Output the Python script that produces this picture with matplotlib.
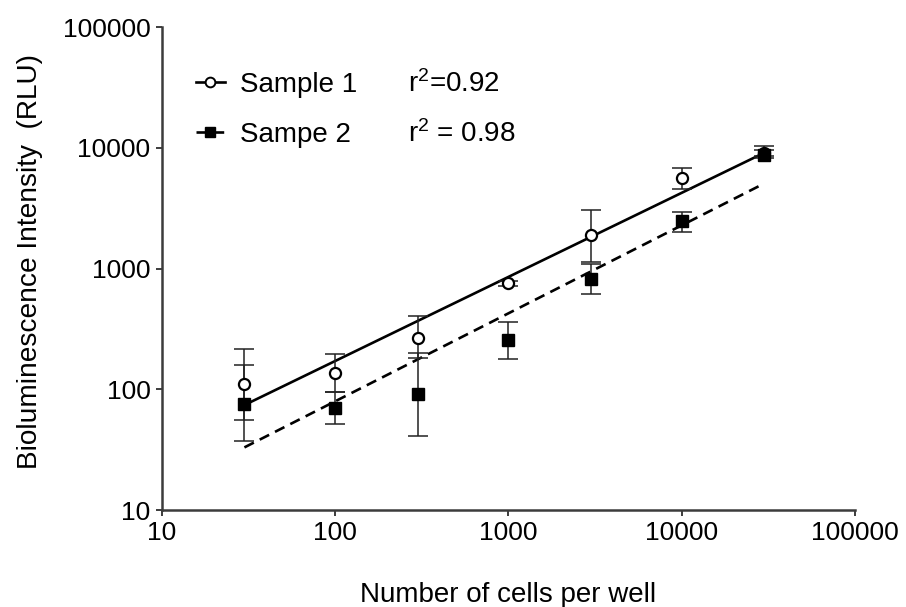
import matplotlib
matplotlib.use("Agg")
import matplotlib.pyplot as plt
from matplotlib.lines import Line2D

plt.rcParams['font.family'] = ['Liberation Sans', 'DejaVu Sans']
plt.rcParams['mathtext.fontset'] = 'custom'
plt.rcParams['mathtext.rm'] = 'Liberation Sans'
plt.rcParams['mathtext.it'] = 'Liberation Sans'

# data
cells = [30, 100, 300, 1000, 3000, 10000, 30000]

s1_mean = [110, 136, 267, 755, 1884, 5610, 9100]
s1_low = [56, 94, 180, 720, 1140, 4560, 8600]
s1_high = [217, 196, 402, 790, 3064, 6860, 10280]

s2_mean = [76, 70, 91, 254, 815, 2455, 8710]
s2_low = [37, 51.5, 41, 177, 614, 2005, 8200]
s2_high = [159, 94, 201, 364, 1081, 2930, 9600]

# fitted lines (end points)
fit_x = [30, 30000]
fit1_y = [74, 9100]
fit2_y = [33, 5070]

labels = ['Sample 1', 'Sampe 2']
r2_labels = [r'r$^2$=0.92', r'r$^2$ = 0.98']

axis_col = '#3c3c3c'
dash = (0, (4, 2.5))
W, H = 906, 607

fig = plt.figure(figsize=(9.06, 6.07), dpi=100)
ax = fig.add_axes([0.1785, 0.1598, 0.7652, 0.7957])

ax.plot(fit_x, fit1_y, color='black', lw=1.9, zorder=2)
ax.plot(fit_x, fit2_y, color='black', lw=1.9, ls=dash, zorder=2)

err1 = [[m - lo for m, lo in zip(s1_mean, s1_low)], [hi - m for m, hi in zip(s1_mean, s1_high)]]
err2 = [[m - lo for m, lo in zip(s2_mean, s2_low)], [hi - m for m, hi in zip(s2_mean, s2_high)]]

ax.errorbar(cells, s1_mean, yerr=err1, fmt='none', ecolor='#222222', elinewidth=1.1,
            capsize=7, capthick=1.1, zorder=3)
ax.errorbar(cells, s2_mean, yerr=err2, fmt='none', ecolor='#222222', elinewidth=1.1,
            capsize=7, capthick=1.1, zorder=3)
ax.plot(cells, s1_mean, 'o', ms=8, mfc='white', mec='black', mew=1.6, zorder=4)
ax.plot(cells, s2_mean, 's', ms=8, mfc='black', mec='black', zorder=5)

ax.set_xscale('log')
ax.set_yscale('log')
ax.set_xlim(10, 100000)
ax.set_ylim(10, 100000)
ticks = [10, 100, 1000, 10000, 100000]
ax.set_xticks(ticks)
ax.set_xticklabels([str(t) for t in ticks])
ax.set_yticks(ticks)
ax.set_yticklabels([str(t) for t in ticks])
ax.minorticks_off()

for side in ['top', 'right']:
    ax.spines[side].set_visible(False)
for side in ['left', 'bottom']:
    ax.spines[side].set_color(axis_col)
    ax.spines[side].set_linewidth(1.8)
ax.tick_params(axis='both', direction='out', length=4.5, width=1.4, color=axis_col,
               labelsize=19, pad=3.5)

xl = ax.set_xlabel('Number of cells per well', fontsize=20)
xl.set_va('baseline')
ax.xaxis.set_label_coords(0.5, -0.1905)
yl = ax.set_ylabel('Bioluminescence Intensity  (RLU)', fontsize=20.2)
yl.set_va('baseline')
ax.yaxis.set_label_coords(-0.1799, 0.5145)

# legend drawn by hand (baselines in pixels from top)
rows = [92, 142]
line_styles = ['-', dash]
markers = [dict(marker='o', mfc='white', mew=1.4), dict(marker='s', mfc='black', mew=1)]
for yb, lab, r2, ls, mk in zip(rows, labels, r2_labels, line_styles, markers):
    yc = 1 - (yb - 10) / H
    fig.add_artist(Line2D([196 / W, 225 / W], [yc, yc], color='black', lw=1.9, ls=ls))
    fig.add_artist(Line2D([210 / W], [yc], color='black', lw=0, ms=7, mec='black', **mk))
    fig.text(240 / W, 1 - yb / H, lab, fontsize=20, va='baseline', ha='left')
    fig.text(408 / W, 1 - yb / H, r2, fontsize=20, va='baseline', ha='left')

fig.savefig('out.png', dpi=100)
